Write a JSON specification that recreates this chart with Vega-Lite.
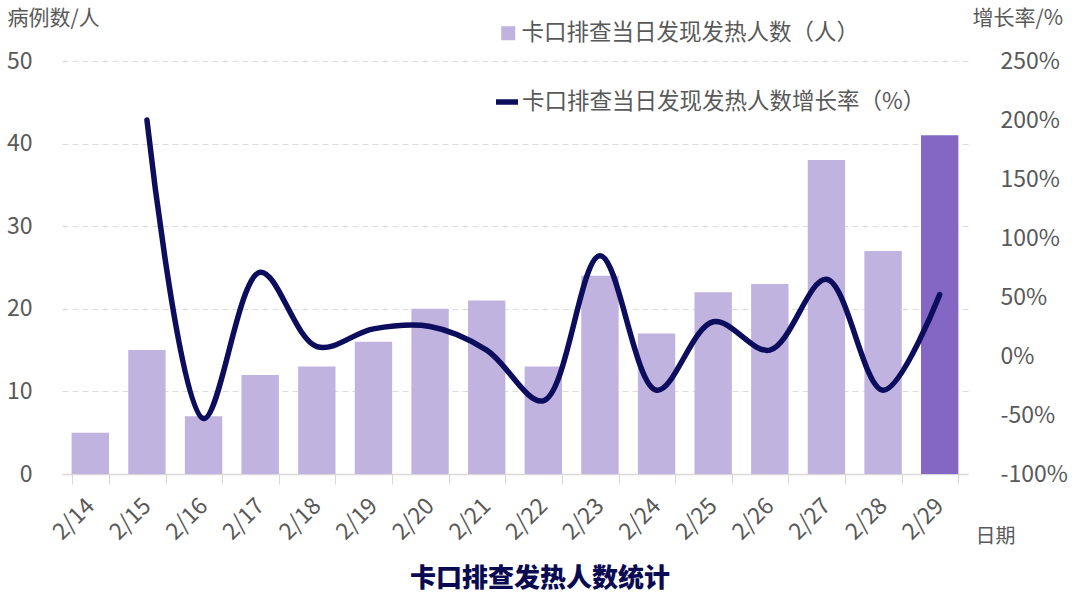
{
  "$schema": "https://vega.github.io/schema/vega-lite/v6.json",
  "width": 906,
  "height": 413,
  "autosize": {"type": "none"},
  "padding": {"left": 62, "top": 61, "right": 112, "bottom": 134},
  "background": "white",
  "config": {
    "font": "Noto Sans CJK SC",
    "view": {"stroke": null},
    "axis": {"labelFont": "Noto Sans CJK SC", "titleFont": "Noto Sans CJK SC", "labelColor": "#595959", "titleColor": "#595959", "titleFontWeight": "normal"},
    "legend": {"labelFont": "Noto Sans CJK SC", "labelColor": "#595959"}
  },
  "title": {
    "text": "卡口排查发热人数统计",
    "orient": "bottom",
    "anchor": "middle",
    "frame": "group",
    "dx": 25,
    "offset": 20,
    "fontSize": 26,
    "fontWeight": 900,
    "color": "#0a0a52",
    "font": "Noto Sans CJK SC"
  },
  "data": {
    "values": [
      {"date": "2/14", "count": 5, "rate": null},
      {"date": "2/15", "count": 15, "rate": 200},
      {"date": "2/16", "count": 7, "rate": -53},
      {"date": "2/17", "count": 12, "rate": 71},
      {"date": "2/18", "count": 13, "rate": 8},
      {"date": "2/19", "count": 16, "rate": 23},
      {"date": "2/20", "count": 20, "rate": 25},
      {"date": "2/21", "count": 21, "rate": 5},
      {"date": "2/22", "count": 13, "rate": -38},
      {"date": "2/23", "count": 24, "rate": 85},
      {"date": "2/24", "count": 17, "rate": -29},
      {"date": "2/25", "count": 22, "rate": 29},
      {"date": "2/26", "count": 23, "rate": 5},
      {"date": "2/27", "count": 38, "rate": 65},
      {"date": "2/28", "count": 27, "rate": -29},
      {"date": "2/29", "count": 41, "rate": 52}
    ]
  },
  "encoding": {
    "x": {
      "field": "date",
      "type": "ordinal",
      "sort": null,
      "scale": {"paddingInner": 0.34, "paddingOuter": 0.17},
      "axis": {
        "title": "日期",
        "titleFontSize": 20,
        "titleX": 913,
        "titleY": 62,
        "titleAlign": "left",
        "titleBaseline": "middle",
        "labelAngle": -45,
        "labelAlign": "right",
        "labelBaseline": "middle",
        "labelFontSize": 23,
        "labelPadding": 18,
        "tickBand": "extent",
        "tickSize": 10,
        "tickColor": "#d9d9d9",
        "domainColor": "#d9d9d9",
        "domainWidth": 1.5,
        "grid": false
      }
    }
  },
  "layer": [
    {
      "mark": {"type": "bar"},
      "encoding": {
        "y": {
          "field": "count",
          "type": "quantitative",
          "scale": {"domain": [0, 50]},
          "axis": {
            "title": "病例数/人",
            "titleFontSize": 21,
            "titleAngle": 0,
            "titleX": -55,
            "titleY": -43,
            "titleAlign": "left",
            "titleBaseline": "middle",
            "values": [0, 10, 20, 30, 40, 50],
            "labelFontSize": 23,
            "labelPadding": 30,
            "ticks": false,
            "domain": false,
            "grid": true,
            "gridColor": "#dcdcdc",
            "gridDash": [6, 4],
            "gridWidth": 1
          }
        },
        "color": {
          "condition": {"test": "datum.date === '2/29'", "value": "#8467c5"},
          "datum": "卡口排查当日发现发热人数（人）",
          "scale": {"range": ["#c0b3e0"]},
          "legend": {
            "title": null,
            "orient": "none",
            "legendX": 435,
            "legendY": -39,
            "padding": 0,
            "symbolType": "square",
            "symbolSize": 196,
            "symbolStrokeWidth": 0,
            "labelFontSize": 22.5,
            "labelLimit": 0,
            "labelOffset": 2
          }
        }
      }
    },
    {
      "mark": {"type": "line", "interpolate": "catmull-rom", "strokeWidth": 5.5, "strokeCap": "round", "strokeJoin": "round"},
      "encoding": {
        "y": {
          "field": "rate",
          "type": "quantitative",
          "scale": {"domain": [-100, 250]},
          "axis": {
            "orient": "right",
            "title": "增长率/%",
            "titleFontSize": 21,
            "titleAngle": 0,
            "titleX": 4,
            "titleY": -43,
            "titleAlign": "left",
            "titleBaseline": "middle",
            "values": [-100, -50, 0, 50, 100, 150, 200, 250],
            "labelExpr": "datum.value + '%'",
            "labelFontSize": 23,
            "labelPadding": 32,
            "ticks": false,
            "domain": false,
            "grid": false
          }
        },
        "stroke": {
          "datum": "卡口排查当日发现发热人数增长率（%）",
          "scale": {"range": ["#0d0d5e"]},
          "legend": {
            "title": null,
            "orient": "none",
            "legendX": 431,
            "legendY": 27,
            "padding": 0,
            "symbolType": "stroke",
            "symbolSize": 484,
            "symbolStrokeWidth": 5.5,
            "labelFontSize": 22.5,
            "labelLimit": 0,
            "labelOffset": 1
          }
        }
      }
    }
  ],
  "resolve": {"scale": {"y": "independent"}}
}
